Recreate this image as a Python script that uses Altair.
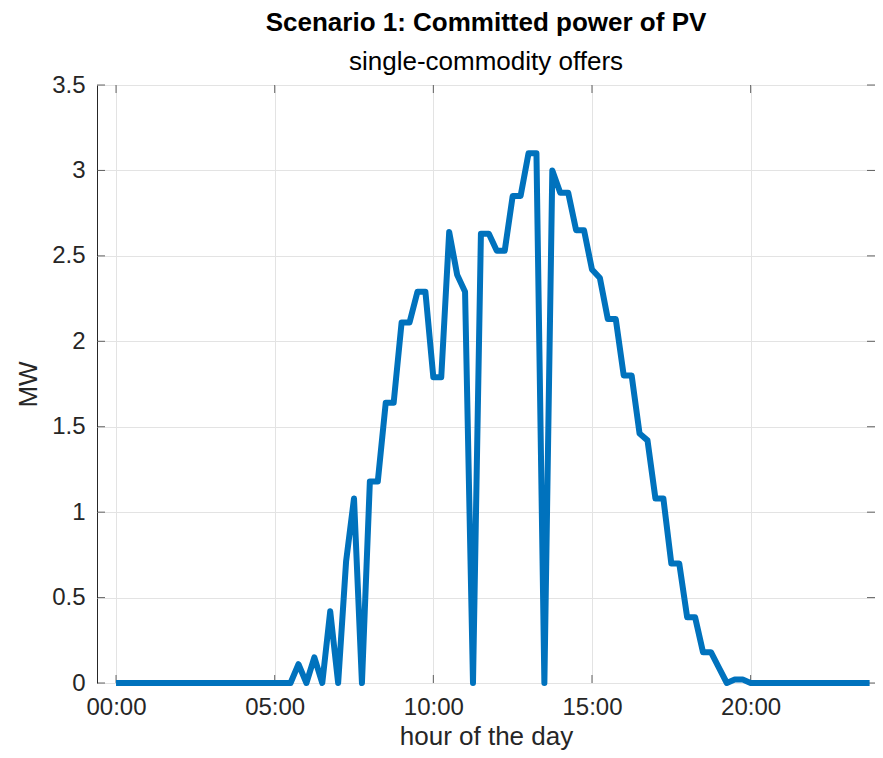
import altair as alt
import pandas as pd

# 15-minute resolution over one day
hours = [i * 0.25 for i in range(96)]
power = (
    [0.0] * 23
    + [0.11, 0.0, 0.15, 0.0, 0.42, 0.0, 0.71, 1.08, 0.0,
       1.18, 1.18, 1.64, 1.64, 2.11, 2.11, 2.29, 2.29, 1.79, 1.79,
       2.64, 2.39, 2.29, 0.0, 2.63, 2.63, 2.53, 2.53, 2.85, 2.85,
       3.10, 3.10, 0.0, 3.00, 2.87, 2.87, 2.65, 2.65, 2.42, 2.37,
       2.13, 2.13, 1.80, 1.80, 1.46, 1.42, 1.08, 1.08, 0.70, 0.70,
       0.385, 0.385, 0.18, 0.18, 0.09, 0.0, 0.02, 0.02]
    + [0.0] * 16
)
x_ticks = [0, 5, 10, 15, 20]
y_ticks = [0, 0.5, 1, 1.5, 2, 2.5, 3, 3.5]

W, H = 778, 598
FONT = "Liberation Sans"
DARK = "#262626"

df = pd.DataFrame({"hour": hours, "MW": power})
xt = pd.DataFrame({"hour": x_ticks})
yt = pd.DataFrame({"MW": y_ticks})

x_scale = alt.Scale(domain=[-0.6, 23.92], nice=False, zero=False)
y_scale = alt.Scale(domain=[0, 3.5], nice=False)

x_axis = alt.Axis(
    values=x_ticks,
    labelExpr="(datum.value < 10 ? '0' : '') + datum.value + ':00'",
    title="hour of the day", grid=True, ticks=False, tickSize=0, domain=False,
    labelPadding=12, titlePadding=4)
y_axis = alt.Axis(
    values=y_ticks, format="~g", title="MW", grid=True, ticks=False,
    tickSize=0, domain=False, labelPadding=12, titlePadding=10)

line = alt.Chart(df).mark_line(
    color="#0072BD", strokeWidth=6, strokeJoin="round", strokeCap="butt", clip=False
).encode(
    x=alt.X("hour:Q", scale=x_scale, axis=x_axis),
    y=alt.Y("MW:Q", scale=y_scale, axis=y_axis),
)

tick_style = dict(color=DARK, size=8, thickness=1)
left_ticks = alt.Chart(yt).mark_tick(orient="horizontal", **tick_style).encode(
    y=alt.Y("MW:Q", scale=y_scale, axis=y_axis), x=alt.value(4))
right_ticks = alt.Chart(yt).mark_tick(orient="horizontal", **tick_style).encode(
    y=alt.Y("MW:Q", scale=y_scale, axis=y_axis), x=alt.value(W - 4))
bottom_ticks = alt.Chart(xt).mark_tick(orient="vertical", **tick_style).encode(
    x=alt.X("hour:Q", scale=x_scale, axis=x_axis), y=alt.value(H - 4))
top_ticks = alt.Chart(xt).mark_tick(orient="vertical", **tick_style).encode(
    x=alt.X("hour:Q", scale=x_scale, axis=x_axis), y=alt.value(4))

chart = alt.layer(
    left_ticks, right_ticks, bottom_ticks, top_ticks, line
).properties(
    width=W, height=H,
    title=alt.TitleParams(
        text="Scenario 1: Committed power of PV",
        subtitle="single-commodity offers",
        anchor="middle", fontSize=26, fontWeight="bold", font=FONT, color="black",
        subtitleFontSize=26, subtitleFont=FONT, subtitleColor="black",
        subtitlePadding=13, offset=-2),
    autosize=alt.AutoSizeParams(type="none"),
    padding={"left": 89, "top": 77, "right": 0, "bottom": 67},
).configure_axis(
    labelFont=FONT, labelFontSize=24, labelColor=DARK,
    titleFont=FONT, titleFontSize=26, titleColor=DARK, titleFontWeight="normal",
    gridColor="#e3e3e3", gridWidth=1,
).configure_view(
    stroke=DARK, strokeWidth=1
)

chart.save("out.html", embed_options={"renderer": "svg", "actions": False})
